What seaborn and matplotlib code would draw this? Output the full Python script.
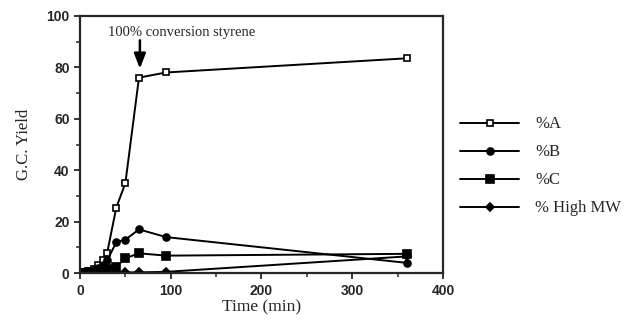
import numpy as np
import pandas as pd
import matplotlib
matplotlib.use("Agg")
import matplotlib.pyplot as plt
import seaborn as sns

# reaction time (min)
time_min = [0, 5, 10, 15, 20, 25, 30, 40, 50, 65, 95, 360]

# G.C. yields
pct_a = [0, 0.3, 0.8, 1.5, 3, 5, 8, 25.5, 35, 76, 78, 83.5]
pct_b = [0, 0.2, 0.5, 1, 2, 3, 5, 12, 13, 17, 14, 4]
pct_c = [0, 0.1, 0.3, 0.5, 0.8, 1, 1.5, 2.5, 5.8, 7.7, 6.8, 7.5]
pct_hmw = [0, 0, 0, 0, 0, 0, 0, 0, 0.3, 0.3, 0.5, 6.5]

series_names = ["%A", "%B", "%C", "% High MW"]
series_vals = [pct_a, pct_b, pct_c, pct_hmw]
markers = ["s", "o", "s", "D"]
facecolors = ["white", "black", "black", "black"]
msizes = [5, 5, 6, 4.5]

sns.set_style("ticks")
plt.rcParams['font.family'] = ['Liberation Serif', 'DejaVu Serif']

fig = plt.figure(figsize=(6.3, 3.24), dpi=100)
ax = fig.add_axes([0.127, 0.157, 0.576, 0.794])

for name, vals, mk, fc, ms in zip(series_names, series_vals, markers, facecolors, msizes):
    sns.lineplot(x=time_min, y=vals, ax=ax, color="black", marker=mk,
                 markerfacecolor=fc, markeredgecolor="black", markeredgewidth=1.2,
                 markersize=ms, linewidth=1.4, label=name)

ax.set_xlim(0, 400)
ax.set_ylim(0, 100)
ax.set_xticks([0, 100, 200, 300, 400])
ax.set_xticks([50, 150, 250, 350], minor=True)
ax.set_yticks([0, 20, 40, 60, 80, 100])
ax.set_yticks([10, 30, 50, 70, 90], minor=True)
for lbl in ax.get_xticklabels() + ax.get_yticklabels():
    lbl.set_fontfamily('Liberation Sans')
    lbl.set_fontweight('bold')
    lbl.set_fontsize(10)
ax.tick_params(which='major', length=4, width=1.3, direction='out')
ax.tick_params(which='minor', length=3, width=1.1, direction='out')
for sp in ax.spines.values():
    sp.set_linewidth(1.6)
    sp.set_visible(True)

ax.set_xlabel("Time (min)", fontsize=12.5, labelpad=1)
ax.set_ylabel("G.C. Yield", fontsize=12, labelpad=10)

# label and vertical arrow for full styrene conversion
ax.text(112, 93.5, "100% conversion styrene", ha='center', va='center', fontsize=10.5)
ax.annotate("", xy=(66, 79.5), xytext=(66, 90.5),
            arrowprops=dict(arrowstyle="-|>,head_width=0.35,head_length=0.9",
                            color="black", lw=1.8, shrinkA=0, shrinkB=0))

ax.legend(loc='upper left', bbox_to_anchor=(1.03, 0.635), frameon=False,
          fontsize=12, handlelength=3.5, labelspacing=0.72, handletextpad=1.0,
          borderaxespad=0)

fig.savefig("out.png", dpi=100)
